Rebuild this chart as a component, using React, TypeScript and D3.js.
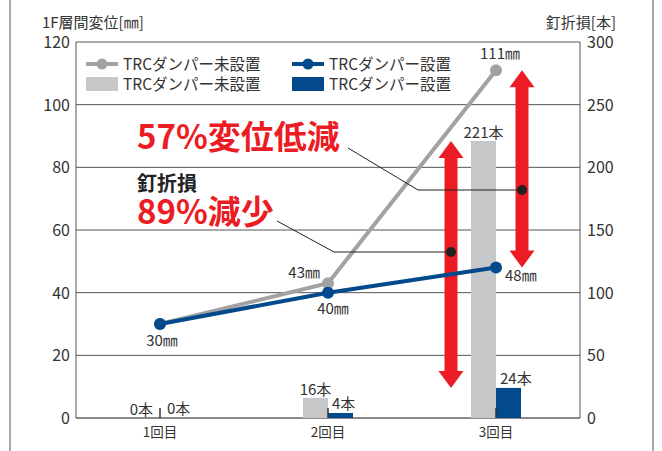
import React from "react";
import * as d3 from "d3";

const categories = ["1回目", "2回目", "3回目"];
const dispUndamped = [30, 43, 111]; // mm, TRCダンパー未設置
const dispDamped = [30, 40, 48]; // mm, TRCダンパー設置
const nailsUndamped = [0, 16, 221]; // 本
const nailsDamped = [0, 4, 24]; // 本
const leftTicks = [0, 20, 40, 60, 80, 100, 120];
const rightTicks = [0, 50, 100, 150, 200, 250, 300];
const legendLabels = ["TRCダンパー未設置", "TRCダンパー設置"];

const W = 662, H = 451;
const L = 76, R = 580, T = 42, B = 418;
const GRAY_LINE = "#a2a2a2";
const GRAY_BAR = "#c6c7c9";
const BLUE = "#034a8c";
const RED = "#ec1c24";
const TXT = "#333";
const FONT = "'Noto Sans CJK JP', 'Noto Sans', sans-serif";

function arrowPath(x: number, y1: number, y2: number) {
  const sw = 6.5, hw = 12.5, hl = 17;
  const top = Math.min(y1, y2), bot = Math.max(y1, y2);
  return `M${x},${top} L${x + hw},${top + hl} L${x + sw},${top + hl} L${x + sw},${bot - hl} L${x + hw},${bot - hl} L${x},${bot} L${x - hw},${bot - hl} L${x - sw},${bot - hl} L${x - sw},${top + hl} L${x - hw},${top + hl} Z`;
}

export default function App() {
  const x = d3.scaleBand<string>().domain(categories).range([L, R]).padding(0);
  const cx = (c: string) => (x(c) as number) + x.bandwidth() / 2;
  const yL = d3.scaleLinear().domain([0, 120]).range([B, T]);
  const yR = d3.scaleLinear().domain([0, 300]).range([B, T]);
  const line = d3.line<[number, number]>().x(d => d[0]).y(d => d[1]);
  const ptsU: [number, number][] = categories.map((c, i) => [cx(c), yL(dispUndamped[i])]);
  const ptsD: [number, number][] = categories.map((c, i) => [cx(c), yL(dispDamped[i])]);
  const bw = 25;
  const c3 = cx(categories[2]);
  const ax1 = c3 - 45;
  const ax2 = c3 + 26;

  return (
    <svg width={W} height={H} style={{ position: "absolute", left: 0, top: 0, fontFamily: FONT }}>
      <rect x={0} y={0} width={W} height={H} fill="#fff" />
      <line x1={10} x2={10} y1={0} y2={H} stroke="#a8a8a8" strokeWidth={2} />
      <line x1={653} x2={653} y1={0} y2={H} stroke="#a8a8a8" strokeWidth={2} />

      {/* grid */}
      {leftTicks.map(t => (
        <line key={"g" + t} x1={L} x2={R} y1={yL(t)} y2={yL(t)} stroke={t === 0 ? "#8a8a8a" : "#555"} strokeWidth={t === 0 ? 2 : 1} />
      ))}
      <line x1={L} x2={L} y1={T} y2={B} stroke="#555" strokeWidth={1} />
      <line x1={R} x2={R} y1={T} y2={B} stroke="#555" strokeWidth={1} />

      {/* ticks */}
      {leftTicks.map(t => (
        <text key={"l" + t} x={70} y={yL(t) + 6} textAnchor="end" fontSize={16} fill={TXT}>{t}</text>
      ))}
      {rightTicks.map(t => (
        <text key={"r" + t} x={587} y={yR(t) + 6} textAnchor="start" fontSize={16} fill={TXT}>{t}</text>
      ))}
      <text x={42} y={27.5} fontSize={15} fill={TXT}>1F層間変位[㎜]</text>
      <text x={616} y={27.5} fontSize={15} fill={TXT} textAnchor="end">釘折損[本]</text>

      {/* x labels */}
      {categories.map(c => (
        <text key={c} x={cx(c)} y={437} fontSize={13.5} fill={TXT} textAnchor="middle">{c}</text>
      ))}

      {/* bars */}
      {categories.map((c, i) => (
        <g key={"b" + c}>
          <rect x={cx(c) - bw} y={yR(nailsUndamped[i])} width={bw} height={B - yR(nailsUndamped[i])} fill={GRAY_BAR} />
          <rect x={cx(c)} y={yR(nailsDamped[i])} width={bw} height={B - yR(nailsDamped[i])} fill={BLUE} />
          <line x1={cx(c)} x2={cx(c)} y1={B - 10} y2={B} stroke="#333" strokeWidth={1.5} />
        </g>
      ))}
      {categories.map((c, i) => {
        const g = nailsUndamped[i], b = nailsDamped[i];
        return (
          <g key={"bl" + c} fontSize={15} fill={TXT}>
            <text x={g === 0 ? cx(c) - 7 : cx(c) - bw / 2} y={yR(g) - 3} textAnchor={g === 0 ? "end" : "middle"}>{g}本</text>
            <text x={b === 0 ? cx(c) + 7 : cx(c) + 4} y={yR(b) - 4} textAnchor="start">{b}本</text>
          </g>
        );
      })}

      {/* arrows */}
      <path d={arrowPath(ax1, yR(nailsUndamped[2]), yR(nailsDamped[2]))} fill={RED} />
      <path d={arrowPath(ax2, yL(dispUndamped[2]), yL(dispDamped[2]))} fill={RED} />

      {/* lines */}
      <path d={line(ptsU) as string} fill="none" stroke={GRAY_LINE} strokeWidth={4} />
      {ptsU.map((p, i) => <circle key={"cu" + i} cx={p[0]} cy={p[1]} r={6} fill={GRAY_LINE} />)}
      <path d={line(ptsD) as string} fill="none" stroke={BLUE} strokeWidth={4} />
      {ptsD.map((p, i) => <circle key={"cd" + i} cx={p[0]} cy={p[1]} r={6} fill={BLUE} />)}

      {/* point labels */}
      <g fontSize={15} fill={TXT}>
        <text x={ptsD[0][0] + 2} y={ptsD[0][1] + 22} textAnchor="middle">{dispDamped[0]}㎜</text>
        <text x={ptsD[1][0] + 5} y={ptsD[1][1] + 21} textAnchor="middle">{dispDamped[1]}㎜</text>
        <text x={ptsU[1][0] - 8} y={ptsU[1][1] - 5} textAnchor="end">{dispUndamped[1]}㎜</text>
        <text x={ptsU[2][0] - 16} y={ptsU[2][1] - 11} textAnchor="start">{dispUndamped[2]}㎜</text>
        <text x={ptsD[2][0] + 9} y={ptsD[2][1] + 13} textAnchor="start">{dispDamped[2]}㎜</text>
      </g>

      {/* annotations */}
      <polyline points={`348,148 418,190 ${ax2},190`} fill="none" stroke="#222" strokeWidth={1} />
      <circle cx={ax2} cy={190} r={5} fill="#222" />
      <polyline points={`277,221 334,252 ${ax1},252`} fill="none" stroke="#222" strokeWidth={1} />
      <circle cx={ax1} cy={252} r={5} fill="#222" />
      <text x={137} y={149} fontSize={33} fontWeight="bold" fill={RED}>57%変位低減</text>
      <text x={137} y={191} fontSize={20} fontWeight="bold" fill="#222">釘折損</text>
      <text x={137} y={223.5} fontSize={33} fontWeight="bold" fill={RED}>89%減少</text>

      {/* legend */}
      <rect x={78} y={50} width={252} height={48} fill="#fff" />
      <line x1={86} x2={118} y1={64} y2={64} stroke={GRAY_LINE} strokeWidth={4} />
      <circle cx={102} cy={64} r={5.5} fill={GRAY_LINE} />
      <text x={123} y={69.5} fontSize={15.5} fill={TXT}>{legendLabels[0]}</text>
      <rect x={86} y={77} width={32} height={14} fill={GRAY_BAR} />
      <text x={123} y={90} fontSize={15.5} fill={TXT}>{legendLabels[0]}</text>
      <line x1={292} x2={324} y1={64} y2={64} stroke={BLUE} strokeWidth={4} />
      <circle cx={308} cy={64} r={5.5} fill={BLUE} />
      <text x={329} y={69.5} fontSize={15.5} fill={TXT}>{legendLabels[1]}</text>
      <rect x={292} y={77} width={32} height={14} fill={BLUE} />
      <text x={329} y={90} fontSize={15.5} fill={TXT}>{legendLabels[1]}</text>
    </svg>
  );
}
